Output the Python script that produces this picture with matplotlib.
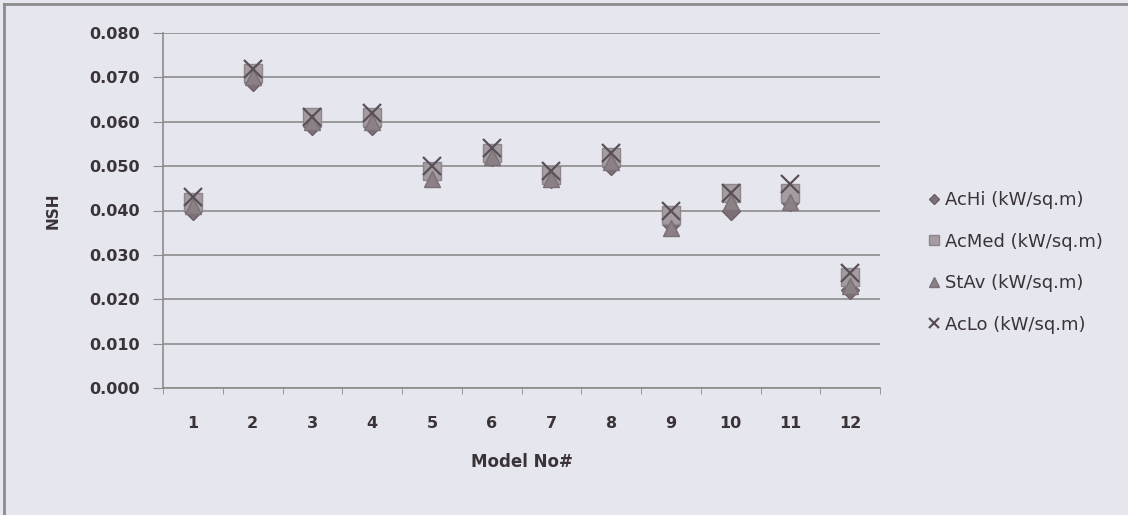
import matplotlib.pyplot as plt
from matplotlib.lines import Line2D

models = [1, 2, 3, 4, 5, 6, 7, 8, 9, 10, 11, 12]
ac_hi = [0.040, 0.069, 0.059, 0.059, 0.048, 0.052, 0.047, 0.050, 0.037, 0.040, 0.042, 0.022]
ac_med = [0.042, 0.071, 0.061, 0.061, 0.049, 0.053, 0.048, 0.052, 0.039, 0.044, 0.044, 0.025]
st_av = [0.041, 0.070, 0.060, 0.060, 0.047, 0.052, 0.047, 0.051, 0.036, 0.042, 0.042, 0.023]
ac_lo = [0.043, 0.072, 0.061, 0.062, 0.050, 0.054, 0.049, 0.053, 0.040, 0.044, 0.046, 0.026]
yticks = [0.0, 0.01, 0.02, 0.03, 0.04, 0.05, 0.06, 0.07, 0.08]

bg = '#e6e6ef'
txt = '#3a3438'
fig = plt.figure(figsize=(11.28, 5.15), dpi=100, facecolor=bg)
ax = fig.add_axes([163/1128, 1 - 388/515, (880-163)/1128, (388-33)/515])
ax.set_facecolor(bg)

ax.plot(models, ac_hi, 'D', ms=9, color='#7a7076', mec='#6a6066', label='AcHi (kW/sq.m)', zorder=3)
ax.plot(models, ac_med, 's', ms=13, color='#a49ca0', mec='#8e868a', label='AcMed (kW/sq.m)', zorder=3)
ax.plot(models, st_av, '^', ms=12, color='#8a8085', mec='#7a7076', label='StAv (kW/sq.m)', zorder=3)
ax.plot(models, ac_lo, 'x', ms=13, mew=1.6, color='#5a5058', label='AcLo (kW/sq.m)', zorder=4)

ax.set_xlim(0.5, 12.5)
ax.set_ylim(0, 0.08)
ax.set_yticks(yticks)
ax.set_yticklabels(['%.3f' % v for v in yticks])
ax.set_xticks(models)
ax.set_xticks([0.5 + i for i in range(13)], minor=True)
ax.tick_params(axis='x', which='major', length=0, pad=20)
ax.tick_params(axis='x', which='minor', length=4, color='#8c8c8c', direction='out')
ax.tick_params(axis='y', length=7, color='#8c8c8c', pad=10)
for lab in ax.get_xticklabels() + ax.get_yticklabels():
    lab.set_fontsize(11.5)
    lab.set_fontweight('bold')
    lab.set_color(txt)

ax.grid(axis='y', color='#8c8c8c', lw=1.2)
ax.set_axisbelow(True)
for s in ['top', 'right']:
    ax.spines[s].set_visible(False)
for s in ['left', 'bottom']:
    ax.spines[s].set_color('#8c8c8c')
    ax.spines[s].set_linewidth(1.2)

ax.set_xlabel('Model No#', fontsize=12, fontweight='bold', color=txt, labelpad=16)
ax.set_ylabel('NSH', fontsize=11, fontweight='bold', color=txt, labelpad=20)

leg = ax.legend(loc='upper left', bbox_to_anchor=(1.045, 0.60), frameon=False,
                fontsize=13, handlelength=0.6, handletextpad=0.3, labelspacing=1.3,
                markerscale=0.6, labelcolor=txt)

# outer chart border (top and left visible)
fig.add_artist(Line2D([4/1128, 4/1128], [0, 1 - 4/515], color='#8c8c8c', lw=2))
fig.add_artist(Line2D([4/1128, 1], [1 - 4/515, 1 - 4/515], color='#8c8c8c', lw=2))

fig.savefig('out.png', dpi=100, facecolor=bg)
